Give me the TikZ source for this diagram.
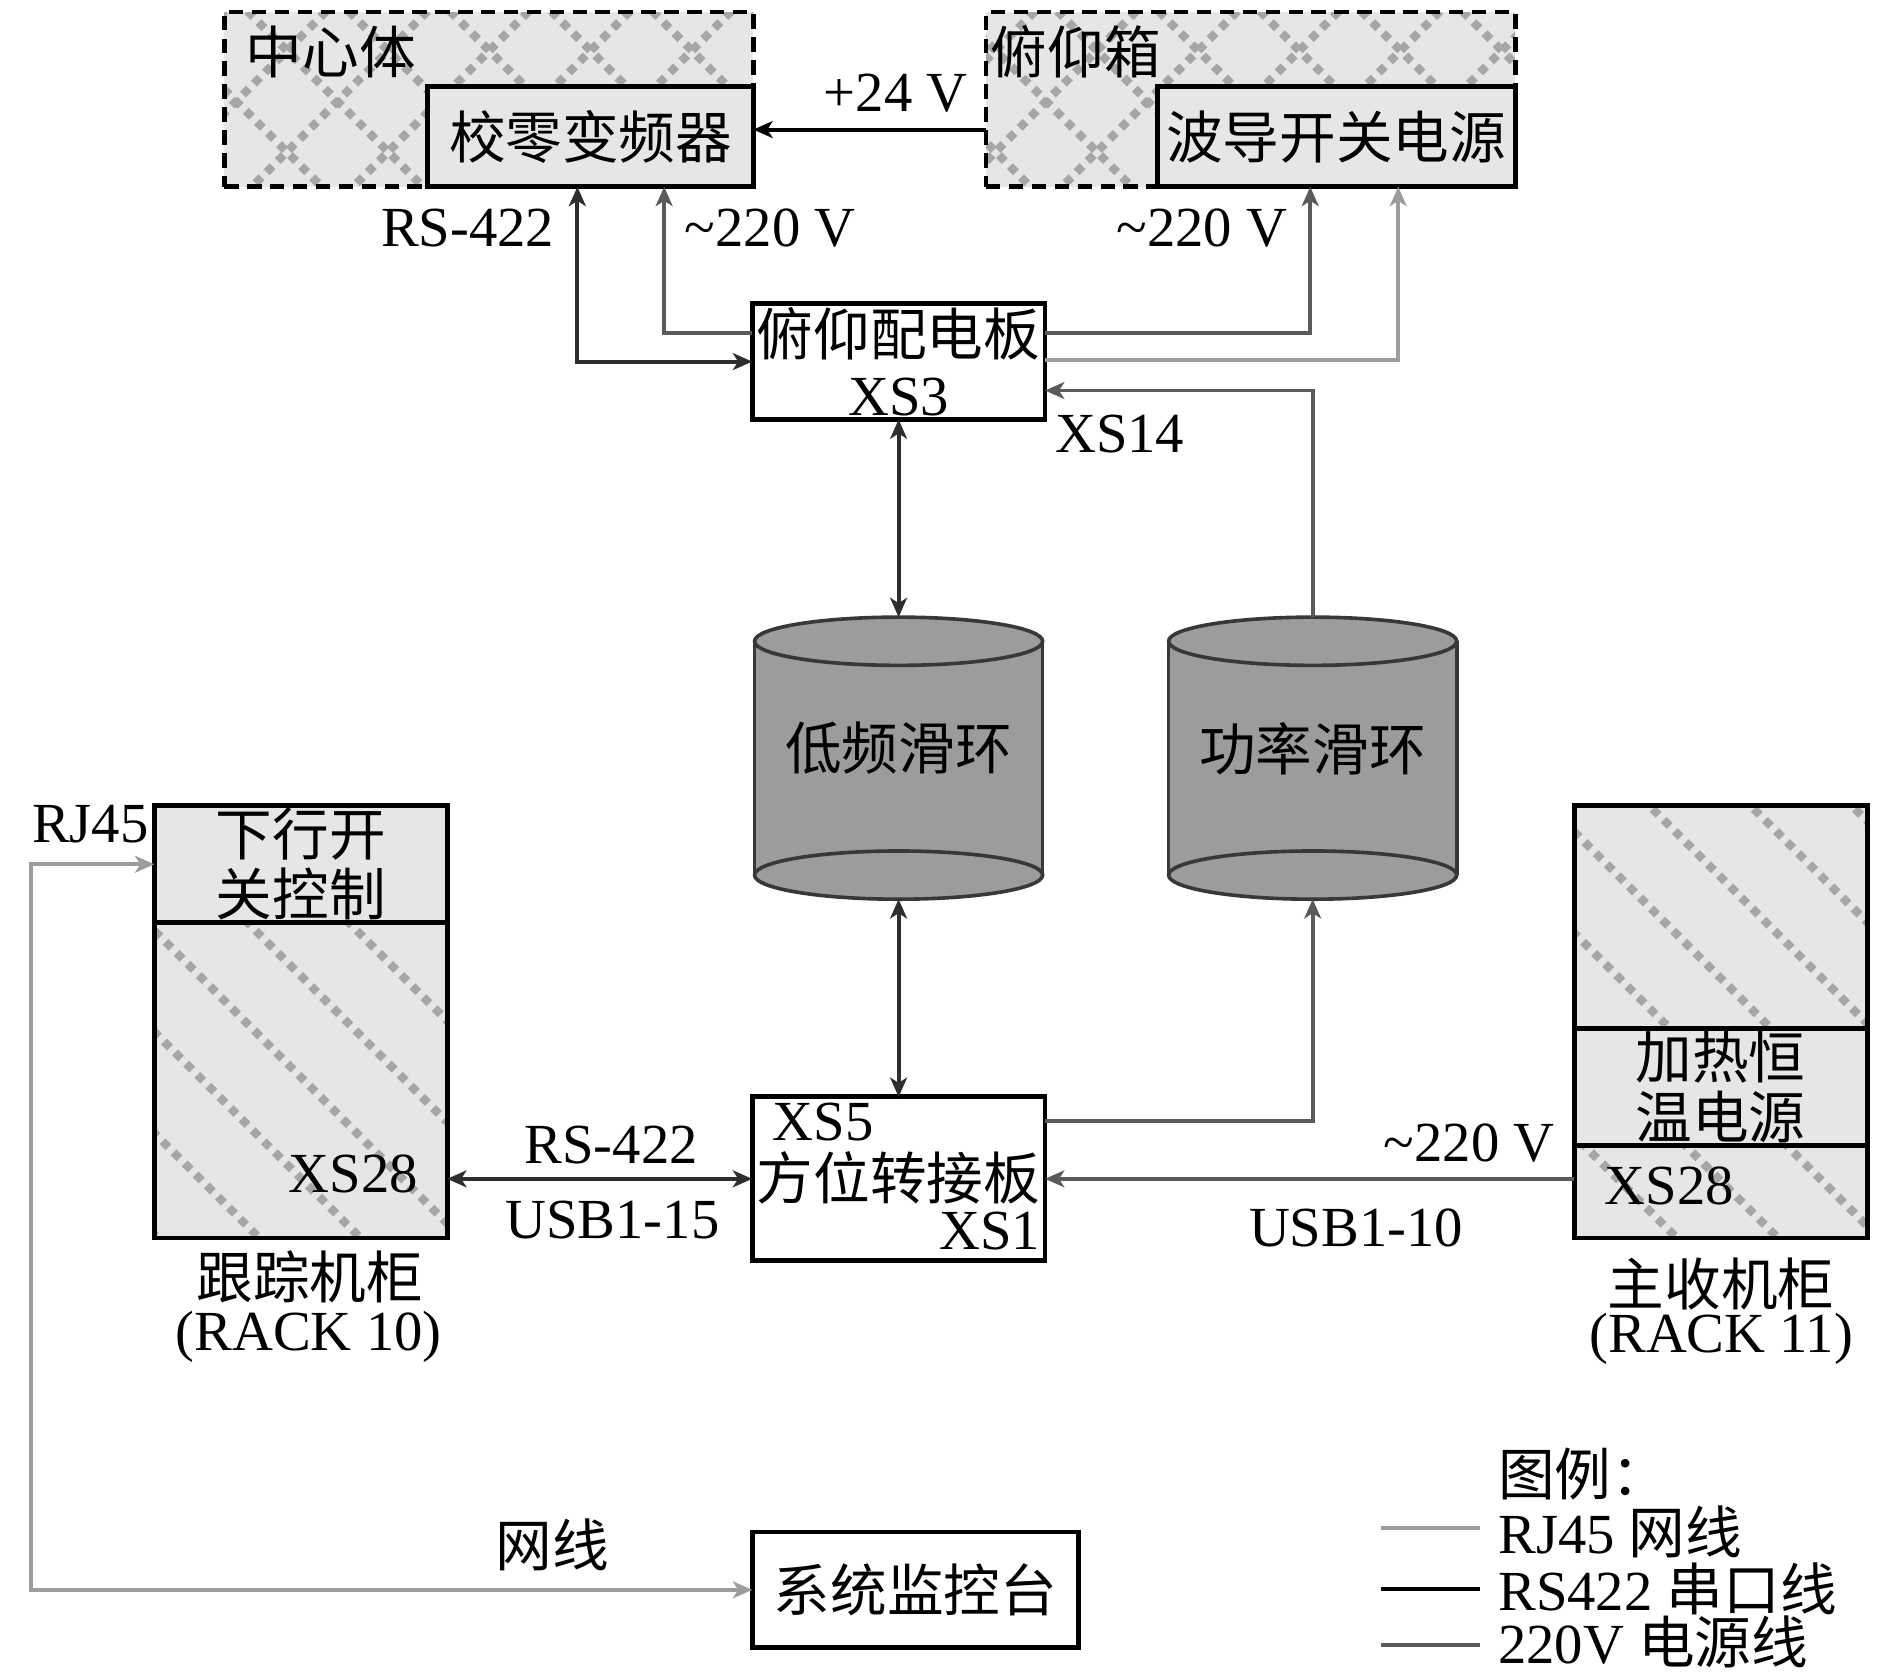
\documentclass[tikz,border=0pt]{standalone}
\usepackage{fontspec}
\setmainfont{Liberation Serif}
\newfontfamily\cjk{Noto Sans CJK SC}
\usetikzlibrary{arrows.meta,calc}
\definecolor{boxfill}{HTML}{E6E6E6}
\definecolor{patc}{HTML}{A6A6A6}
\definecolor{rsline}{HTML}{2E2E2E}
\definecolor{pwline}{HTML}{5A5A5A}
\definecolor{rjline}{HTML}{9C9C9C}
\definecolor{cylfill}{HTML}{9C9C9C}
\definecolor{cylline}{HTML}{383838}
\tikzset{
  every node/.style={inner sep=0pt, outer sep=0pt, font=\fontsize{23.5pt}{25pt}\selectfont},
  cn/.style={font=\fontsize{23.5pt}{25pt}\cjk},
  blk/.style={draw=black, line width=2pt, anchor=north west, align=center},
  dashbox/.style={draw=black, line width=2pt, dash pattern=on 6pt off 3.5pt, anchor=north west},
  hatch/.style={draw=patc, line width=3.5pt, dash pattern=on 3.5pt off 3pt},
  conn/.style={line width=1.6pt},
  rs/.style={conn, draw=rsline},
  pw/.style={conn, draw=pwline},
  rj/.style={conn, draw=rjline},
  cylpart/.style={draw=cylline, fill=cylfill, line width=1.5pt},
}
\newcommand\diamondhatch[4]{%
  \fill[boxfill] (#1,#2) rectangle (#3,#4);
  \begin{scope}
    \clip (#1,#2) rectangle (#3,#4);
    \foreach \a in {-1400,-1316,...,2000} {
      \draw[hatch] (\a,0) -- ++(1500,1500);
      \draw[hatch] (\a,0) -- ++(-1500,1500);
    }
  \end{scope}}
\newcommand\slashhatch[4]{%
  \fill[boxfill] (#1,#2) rectangle (#3,#4);
  \begin{scope}
    \clip (#1,#2) rectangle (#3,#4);
    \foreach \a in {-1400,-1316,...,2000} {
      \draw[hatch] (\a,0) -- ++(1500,1500);
    }
  \end{scope}}
\begin{document}
\begin{tikzpicture}[x=0.5pt, y=-0.5pt, >={Stealth[length=8pt,width=7pt,inset=2.2pt]}]
\fill[white] (0,0) rectangle (1568,1391);
\useasboundingbox (0,0) rectangle (1568,1391);

% patterned backgrounds
\diamondhatch{186}{10}{625}{155}
\diamondhatch{818}{10}{1257}{155}
\slashhatch{128}{668}{371}{1027}
\slashhatch{1306}{668}{1549}{1027}

% top boxes
\node[dashbox, minimum width=219.5pt, minimum height=72.5pt] (zxt) at (186,10) {};
\node[cn, anchor=west] (zxtl) at (204,43) {中心体};
\node[blk, cn, fill=boxfill, minimum width=135pt, minimum height=41.5pt] (jlbpq) at (355,72) {校零变频器};

\node[dashbox, minimum width=219.5pt, minimum height=72.5pt] (fyx) at (818,10) {};
\node[cn, anchor=west] (fyxl) at (822,43) {俯仰箱};
\node[blk, cn, fill=boxfill, minimum width=148.5pt, minimum height=41.5pt] (bdkg) at (960,72) {波导开关电源};

% elevation distribution board
\node[blk, fill=white, minimum width=121.5pt, minimum height=48pt] (fypdb) at (624,252) {{\cjk 俯仰配电板}\\XS3};

% slip ring cylinders
\fill[cylfill] (626,532) rectangle (865,726);
\draw[cylpart] (745.5,726) ellipse [x radius=59.75pt, y radius=10pt];
\draw[cylline, line width=1.5pt] (626,532) -- (626,726) (865,532) -- (865,726);
\draw[cylpart] (745.5,532) ellipse [x radius=59.75pt, y radius=10pt];
\node[anchor=north west, minimum width=119.5pt, minimum height=117pt] (lfhh) at (626,512) {};
\node[cn] (lfhht) at (745.5,621) {低频滑环};

\fill[cylfill] (969.5,532) rectangle (1208.5,726);
\draw[cylpart] (1089,726) ellipse [x radius=59.75pt, y radius=10pt];
\draw[cylline, line width=1.5pt] (969.5,532) -- (969.5,726) (1208.5,532) -- (1208.5,726);
\draw[cylpart] (1089,532) ellipse [x radius=59.75pt, y radius=10pt];
\node[anchor=north west, minimum width=119.5pt, minimum height=117pt] (glhh) at (969.5,512) {};
\node[cn] (glhht) at (1089,621) {功率滑环};

% azimuth adapter board
\node[blk, fill=white, minimum width=121.5pt, minimum height=68pt] (fwzjb) at (624,910) {};
\node (xs5) at (683,931) {XS5};
\node[cn] (fwzjbt) at (745.5,977) {方位转接板};
\node[anchor=east] (xs1) at (863,1021) {XS1};

% rack 10
\node[blk, minimum width=121.5pt, minimum height=179.5pt] (r10) at (128,668) {};
\node[blk, cn, fill=boxfill, minimum width=121.5pt, minimum height=48.5pt] (r10top) at (128,668) {下行开\\关控制};
\node (r10xs) at (293,974) {XS28};
\node[cn] (r10n) at (257,1059) {跟踪机柜};
\node (r10r) at (256,1109) {(RACK 10)};

% rack 11
\node[blk, minimum width=121.5pt, minimum height=179.5pt] (r11) at (1306,668) {};
\node[blk, cn, fill=boxfill, minimum width=121.5pt, minimum height=48.5pt] (r11mid) at (1306,853) {加热恒\\温电源};
\node (r11xs) at (1385,984) {XS28};
\node[cn] (r11n) at (1428,1065) {主收机柜};
\node (r11r) at (1428,1111) {(RACK 11)};

% monitoring console
\node[blk, cn, fill=white, minimum width=135.5pt, minimum height=48pt] (jkt) at (624,1271) {系统监控台};

% connectors
\draw[conn, draw=black, ->] ($(fyx.west |- jlbpq.east)+(0,-6)$) -- ($(jlbpq.east)+(0,-6)$);
\draw[rs, <->] ($(jlbpq.south west)+(124,0)$) |- (fypdb.west);
\draw[pw, ->] ($(fypdb.west)+(0,-24)$) -| ($(jlbpq.south west)+(196,0)$);
\draw[pw, ->] ($(fypdb.east)+(0,-24)$) -| ($(bdkg.south west)+(127,0)$);
\draw[rj, ->] ($(fypdb.east)+(0,-1)$) -| ($(bdkg.south west)+(200,0)$);
\draw[pw, ->] (glhh.north) |- ($(fypdb.east)+(0,24)$);
\draw[rs, <->] (fypdb.south) -- (lfhh.north);
\draw[rs, <->] (lfhh.south) -- (fwzjb.north);
\draw[pw, ->] ($(fwzjb.north east)+(0,20)$) -| (glhh.south);
\draw[rs, <->] (fwzjb.west -| r10.east) -- (fwzjb.west);
\draw[pw, ->] (fwzjb.east -| r11.west) -- (fwzjb.east);
\draw[rj, <->] ($(r10.north west)+(0,49)$) -- ++(-102,0) |- (jkt.west);

% labels
\node (l24) at (743,77) {+24 V};
\node (lrs1) at (388,189) {RS-422};
\node (l220a) at (639,189) {\textasciitilde 220 V};
\node (l220b) at (997,189) {\textasciitilde 220 V};
\node (lxs14) at (929,360) {XS14};
\node (lrj45) at (75,684) {RJ45};
\node (lrs2) at (507,950) {RS-422};
\node (lusb15) at (508,1012) {USB1-15};
\node (l220c) at (1219,948) {\textasciitilde 220 V};
\node (lusb10) at (1125,1019) {USB1-10};
\node[cn] (lwx) at (458,1282) {网线};

% legend
\node[cn, anchor=west] (legt) at (1243,1223) {图例：};
\node[anchor=west] (leg1) at (1243,1271) {RJ45 {\cjk 网线}};
\node[anchor=west] (leg2) at (1243,1318) {RS422 {\cjk 串口线}};
\node[anchor=west] (leg3) at (1243,1362) {220V {\cjk 电源线}};
\draw[rj] ($(leg1.west)+(-97,-3)$) -- ($(leg1.west)+(-15,-3)$);
\draw[conn, draw=black] ($(leg2.west)+(-97,0)$) -- ($(leg2.west)+(-15,0)$);
\draw[pw] ($(leg3.west)+(-97,3)$) -- ($(leg3.west)+(-15,3)$);
\end{tikzpicture}
\end{document}
